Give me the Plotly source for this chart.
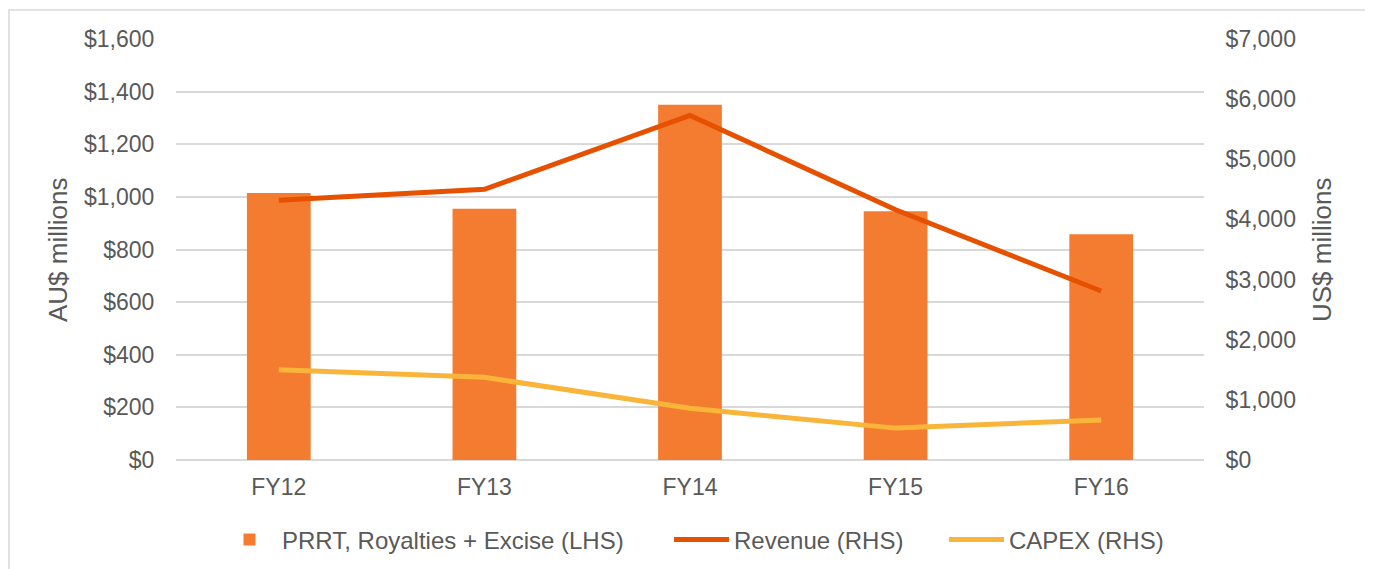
import plotly.graph_objects as go

categories = ["FY12", "FY13", "FY14", "FY15", "FY16"]
prrt_aud = [1015, 955, 1350, 945, 858]
revenue_usd = [4320, 4500, 5730, 4160, 2810]
capex_usd = [1500, 1375, 860, 530, 665]

left_ticks = list(range(0, 1601, 200))
right_ticks = list(range(0, 7001, 1000))

FONT = "Liberation Sans, Arial, sans-serif"
GREY = "#595959"

# page offset of the plot div (body margin) is 8px
PL, PR, PT, PB = 176, 1204, 39, 460   # plot area in page pixels
W, H = 1365, 561


def px(x):
    return (x - PL) / (PR - PL)


def py(y):
    return (PB - y) / (PB - PT)


fig = go.Figure()
fig.add_trace(go.Bar(
    x=categories, y=prrt_aud, name="PRRT, Royalties + Excise (LHS)",
    marker=dict(color="#F47C30", line=dict(width=0)), width=0.31, yaxis="y",
    legend="legend"))
fig.add_trace(go.Scatter(
    x=categories, y=revenue_usd, name="Revenue (RHS)", mode="lines",
    line=dict(color="#E65100", width=5), yaxis="y2", legend="legend2"))
fig.add_trace(go.Scatter(
    x=categories, y=capex_usd, name="CAPEX (RHS)", mode="lines",
    line=dict(color="#F9B53A", width=5), yaxis="y2", legend="legend3"))

legend_common = dict(orientation="h", yanchor="middle", xanchor="left",
                     y=py(540), font=dict(size=24, color=GREY, family=FONT),
                     bgcolor="rgba(0,0,0,0)", itemwidth=55)

fig.update_layout(
    width=W, height=H,
    margin=dict(l=PL - 8, r=W - (PR - 8), t=PT - 8, b=H - (PB - 8), autoexpand=False),
    paper_bgcolor="white", plot_bgcolor="white",
    font=dict(family=FONT, size=23, color=GREY),
    xaxis=dict(showgrid=False, showline=False, zeroline=False, automargin=False,
               ticks="outside", ticklen=6, tickcolor="rgba(0,0,0,0)",
               tickfont=dict(size=23, color=GREY)),
    yaxis=dict(range=[0, 1600], tickvals=left_ticks, automargin=False,
               ticktext=[f"${v:,}" for v in left_ticks],
               showgrid=True, gridcolor="#D9D9D9", gridwidth=1.5,
               zeroline=True, zerolinecolor="#D9D9D9", zerolinewidth=1.5,
               showline=False, ticks="outside", ticklen=16,
               tickcolor="rgba(0,0,0,0)", tickfont=dict(size=23, color=GREY)),
    yaxis2=dict(range=[0, 7000], tickvals=right_ticks, automargin=False,
                ticktext=[f"${v:,}" for v in right_ticks],
                overlaying="y", side="right", showgrid=False, zeroline=False,
                showline=False, ticks="outside", ticklen=16,
                tickcolor="rgba(0,0,0,0)", tickfont=dict(size=23, color=GREY)),
    legend=dict(legend_common, x=px(217)),
    legend2=dict(legend_common, x=px(669)),
    legend3=dict(legend_common, x=px(944)),
    showlegend=True,
)

fig.add_annotation(text="AU$ millions", textangle=-90, xref="paper", yref="paper",
                   x=px(58), y=py(250), showarrow=False,
                   xanchor="center", yanchor="middle",
                   font=dict(size=26, color=GREY, family=FONT))
fig.add_annotation(text="US$ millions", textangle=-90, xref="paper", yref="paper",
                   x=px(1322), y=py(250), showarrow=False,
                   xanchor="center", yanchor="middle",
                   font=dict(size=26, color=GREY, family=FONT))

# outer chart border
fig.add_shape(type="rect", xref="paper", yref="paper",
              x0=px(9), x1=px(1370), y0=py(575), y1=py(10),
              line=dict(color="#D9D9D9", width=1.5), fillcolor="rgba(0,0,0,0)",
              layer="below")

fig.write_html("out.html")
